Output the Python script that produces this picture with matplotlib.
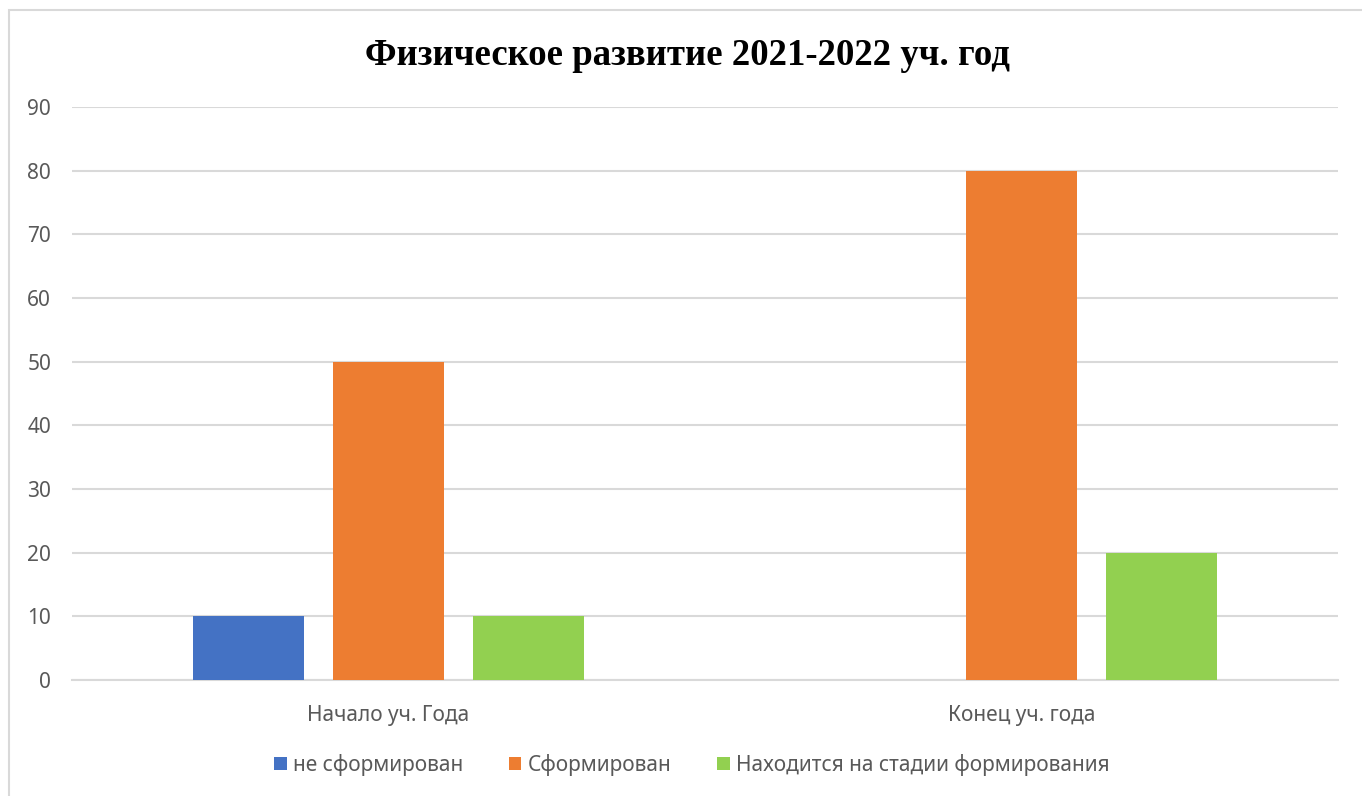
import numpy as np
import matplotlib.pyplot as plt
from matplotlib.patches import Rectangle

categories = ['Начало уч. Года', 'Конец уч. года']
series_names = ['не сформирован', 'Сформирован', 'Находится на стадии формирования']
not_formed = [10, 0]
formed = [50, 80]
forming = [10, 20]
colors = ['#4472C4', '#ED7D31', '#92D050']
yticks = [0, 10, 20, 30, 40, 50, 60, 70, 80, 90]

plt.rcParams['font.family'] = ['Noto Sans', 'DejaVu Sans']

fig = plt.figure(figsize=(13.62, 7.96), dpi=100)
ax = fig.add_axes([72/1362, 1 - 680/796, (1338 - 72)/1362, (680 - 107)/796])

x = np.arange(len(categories))
width = 0.175
offsets = [-0.221, 0, 0.221]
for vals, name, col, off in zip([not_formed, formed, forming], series_names, colors, offsets):
    ax.bar(x + off, vals, width, color=col, label=name, zorder=3)

ax.set_xlim(-0.5, 1.5)
ax.set_ylim(0, 90)
ax.set_yticks(yticks)
ax.set_xticks(x)
ax.set_xticklabels(categories, fontsize=15, color='#595959')
ax.tick_params(axis='y', labelsize=15, labelcolor='#595959', length=0, pad=15)
ax.tick_params(axis='x', length=0, pad=18)
ax.grid(axis='y', color='#D9D9D9', linewidth=1.5, zorder=0)
for s in ['top', 'right', 'left']:
    ax.spines[s].set_visible(False)
ax.spines['bottom'].set_color('#D9D9D9')
ax.spines['bottom'].set_linewidth(1.5)

fig.text(0.505, 0.93, 'Физическое развитие 2021-2022 уч. год', ha='center', va='center',
         fontsize=26.5, fontweight='bold', family=['Liberation Serif', 'DejaVu Serif'])

fig.legend(loc='center', bbox_to_anchor=(0.508, 1 - 765/796), ncol=3, frameon=False,
           fontsize=15, handlelength=0.6, handleheight=0.6, handletextpad=0.3,
           columnspacing=2.2, labelcolor='#595959')

fig.patches.append(Rectangle((9/1362, -0.1), 1.2, 1 - 10/796 + 0.1, transform=fig.transFigure,
                             fill=False, edgecolor='#D9D9D9', linewidth=1.5))

fig.savefig('out.png', dpi=100)
